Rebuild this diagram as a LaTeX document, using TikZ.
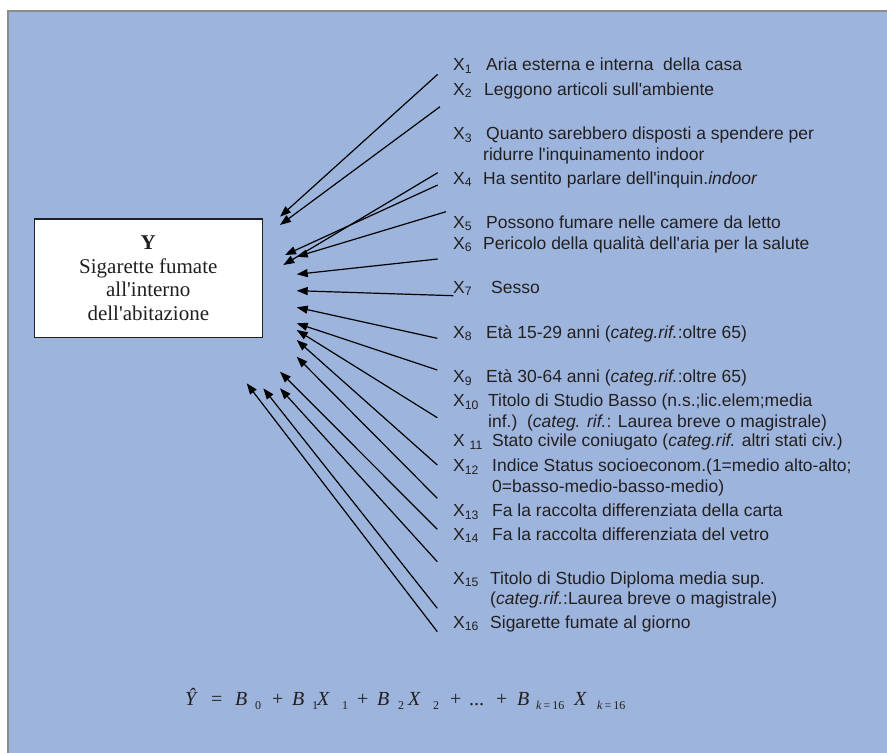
\documentclass[tikz,border=0pt]{standalone}
\usepackage{fontspec}
\setmainfont{Liberation Sans}
\newfontfamily\serifY{Liberation Serif}
\usetikzlibrary{arrows.meta}
\definecolor{bgblue}{RGB}{157,181,221}
\definecolor{framegray}{RGB}{140,140,140}
\definecolor{ink}{RGB}{35,31,32}
\newcommand\apo{\textquotesingle}
\begin{document}
\begin{tikzpicture}[x=1pt,y=-1pt,
  lab/.style={anchor=base west, inner sep=0, font=\fontsize{17.5}{20.5}\selectfont, text=ink},
  arr/.style={-{Triangle[length=11pt,width=8pt]}, line width=1.2pt, draw=black},
  ybox/.style={draw=ink, line width=1.2pt, fill=white, minimum width=228pt, minimum height=118.7pt, inner sep=0, align=center, font=\serifY\fontsize{21}{23.5}\selectfont, text=ink},
  fm/.style={anchor=base west, inner sep=0, font=\serifY\fontsize{20}{22}\selectfont, text=ink},
  fs/.style={anchor=base west, inner sep=0, font=\serifY\fontsize{12}{13}\selectfont, text=ink}]
\useasboundingbox (0,0) rectangle (887,753);
\fill[white] (0,0) rectangle (887,753);
\fill[bgblue] (7,10) rectangle (887,753);
\draw[framegray, line width=2pt] (7.7,753) -- (7.7,11) -- (887,11);

% dependent variable box
\node[ybox] (Y) at (148.3,278.4) {\textbf{Y}\\Sigarette fumate\\all\apo interno\\dell\apo abitazione};

% labels
\node[lab] (x1) at (453,70.7) {\makebox[33pt][l]{X\textsubscript{1}}Aria esterna e interna\ \ della casa};
\node[lab] (x2) at (453,95) {\makebox[31pt][l]{X\textsubscript{2}}Leggono articoli sull\apo ambiente};
\node[lab] (x3) at (453,139.5) {\makebox[30pt][l]{X\textsubscript{3}}\begin{tabular}[t]{@{}l@{}}\hspace{3pt}Quanto sarebbero disposti a spendere per\\ridurre l\apo inquinamento indoor\end{tabular}};
\node[lab] (x4) at (453,184) {\makebox[30pt][l]{X\textsubscript{4}}Ha sentito parlare dell\apo inquin.\textit{indoor}};
\node[lab] (x5) at (453,228) {\makebox[33pt][l]{X\textsubscript{5}}Possono fumare nelle camere da letto};
\node[lab] (x6) at (453,249) {\makebox[30pt][l]{X\textsubscript{6}}Pericolo della qualità dell\apo aria per la salute};
\node[lab] (x7) at (453,293.3) {\makebox[38pt][l]{X\textsubscript{7}}Sesso};
\node[lab] (x8) at (453,338.3) {\makebox[33pt][l]{X\textsubscript{8}}Età 15-29 anni (\textit{categ.rif.}:oltre 65)};
\node[lab] (x9) at (453,382.7) {\makebox[33pt][l]{X\textsubscript{9}}Età 30-64 anni (\textit{categ.rif.}:oltre 65)};
\node[lab] (x10) at (453,406.7) {\makebox[35pt][l]{X\textsubscript{10}}\begin{tabular}[t]{@{}l@{}}Titolo di Studio Basso (n.s.;lic.elem;media\\inf.)\ \ (\textit{categ. rif.}: Laurea breve o magistrale)\end{tabular}};
\node[lab] (x11) at (453,446.7) {\makebox[39pt][l]{X \textsubscript{11}}Stato civile coniugato (\textit{categ.rif.} altri stati civ.)};
\node[lab] (x12) at (453,471.7) {\makebox[39pt][l]{X\textsubscript{12}}\begin{tabular}[t]{@{}l@{}}Indice Status socioeconom.(1=medio alto-alto;\\0=basso-medio-basso-medio)\end{tabular}};
\node[lab] (x13) at (453,516.7) {\makebox[39pt][l]{X\textsubscript{13}}Fa la raccolta differenziata della carta};
\node[lab] (x14) at (453,540) {\makebox[39pt][l]{X\textsubscript{14}}Fa la raccolta differenziata del vetro};
\node[lab] (x15) at (453,584) {\makebox[37pt][l]{X\textsubscript{15}}\begin{tabular}[t]{@{}l@{}}Titolo di Studio Diploma media sup.\\(\textit{categ.rif.}:Laurea breve o magistrale)\end{tabular}};
\node[lab] (x16) at (453,628.3) {\makebox[37pt][l]{X\textsubscript{16}}Sigarette fumate al giorno};

% arrows
\foreach \i/\tx/\ty/\hx/\hy in {
  1/437.7/74.3/280/216.7,
  2/440/106.7/280/225,
  3/437.7/172.7/283.3/265,
  4/437.7/185/285/255,
  5/446/211.7/296.7/256.7,
  6/437.7/259/296.7/274.3,
  7/453.3/295.7/296.7/290.7,
  8/437.3/338.3/296.7/307.3,
  9/437.3/370/296.7/323.3,
  10/437.3/417.7/296.7/330,
  11/437.3/465/296.7/340,
  12/437.3/498.3/296.7/356.7,
  13/437.3/529.3/280/371.7,
  14/437.3/561.7/280/388.3,
  15/437.3/608.3/263.3/388.3,
  16/437.3/631.7/246.7/383.3}{
  \coordinate (t\i) at (\tx,\ty);
  \coordinate (h\i) at (\hx,\hy);
  \draw[arr] (t\i) -- (h\i);
}

% formula
\node[fm] (fY) at (185,705) {\itshape Ŷ};
\node[fm] (feq) at (211,705) {=};
\node[fm] (fB0) at (235,705) {\itshape B};
\node[fs] (fs0) at (255,709) {0};
\node[fm] (fp1) at (272,705) {+};
\node[fm] (fB1) at (292,705) {\itshape B};
\node[fs] (fs1) at (312,709) {1};
\node[fm] (fX1) at (317,705) {\itshape X};
\node[fs] (fs2) at (342,709) {1};
\node[fm] (fp2) at (357,705) {+};
\node[fm] (fB2) at (377,705) {\itshape B};
\node[fs] (fs3) at (398,709) {2};
\node[fm] (fX2) at (408,705) {\itshape X};
\node[fs] (fs4) at (433,709) {2};
\node[fm] (fp3) at (450,705) {+};
\node[fm] (fdots) at (469,705) {...};
\node[fm] (fp4) at (496,705) {+};
\node[fm] (fBk) at (517,705) {\itshape B};
\node[fs] (fs5) at (536,709) {{\itshape k}\,=\,16};
\node[fm] (fXk) at (574,705) {\itshape X};
\node[fs] (fs6) at (597,709) {{\itshape k}\,=\,16};
\end{tikzpicture}
\end{document}
